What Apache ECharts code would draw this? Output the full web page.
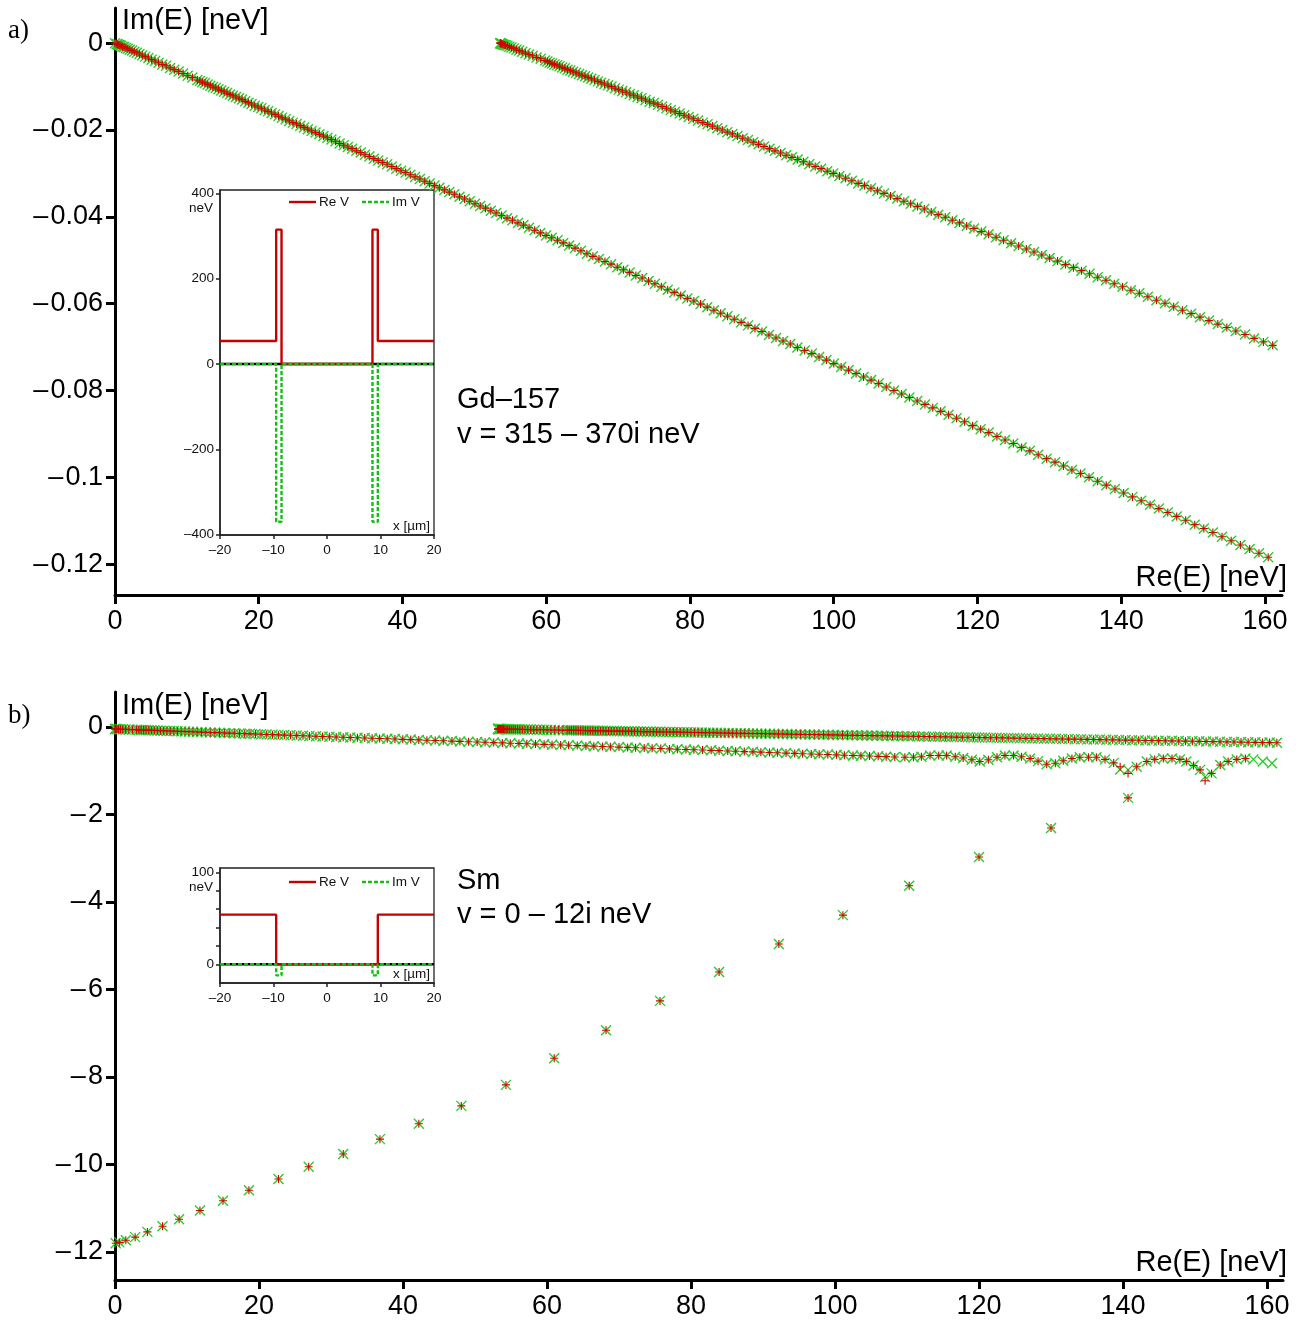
<!DOCTYPE html>
<html>
<head>
<meta charset="utf-8">
<title>Complex eigenvalues: Gd-157 and Sm</title>
<script src="https://cdn.jsdelivr.net/npm/echarts@6/dist/echarts.min.js"></script>
<style>
  html, body { margin: 0; padding: 0; background: #fff; }
  #chart { width: 1299px; height: 1321px; }
</style>
</head>
<body>
<div id="chart"></div>
<script>
// ---------------- a) Gd-157, v = 315 - 370i neV ----------------
// states inside the well (branch starting at the origin)
const gdLowRe = [0, 0.26, 0.38, 0.52, 0.67, 0.85, 1.05, 1.27, 1.52, 1.78, 2.06, 2.37, 2.69, 3.04, 3.41, 3.80, 4.21, 4.64, 5.09, 5.57, 6.06, 6.58, 7.11, 7.67, 8.25, 8.85, 9.47, 10.11, 10.77,
  11.46, 11.81, 12.16, 12.52, 12.89, 13.26, 13.63, 14.02, 14.40, 14.79, 15.19, 15.59, 16.00, 16.41, 16.83, 17.26, 17.68, 18.12, 18.56, 19.00, 19.45, 19.91, 20.37, 20.83, 21.30, 21.78, 22.26, 22.75, 23.24, 23.74, 24.24, 24.75, 25.26, 25.78, 26.30, 26.83, 27.36, 27.90, 28.45, 29.00, 29.55, 30.11, 30.68, 31.25, 31.82, 32.40, 32.99, 33.58, 34.18, 34.78, 35.39, 36.00, 36.62, 37.24, 37.87, 38.51, 39.14, 39.79, 40.44, 41.09, 41.75, 42.42, 43.09, 43.77, 44.45, 45.13, 45.83, 46.52, 47.22, 47.93, 48.64, 49.36, 50.09, 50.81, 51.55, 52.29, 53.03, 53.78, 54.54, 55.30, 56.06, 56.83, 57.61, 58.39, 59.18, 59.97, 60.76, 61.57, 62.37, 63.19, 64.00, 64.83, 65.66, 66.49, 67.33, 68.17, 69.02, 69.88, 70.74, 71.60, 72.47, 73.35, 74.23, 75.12, 76.01, 76.90, 77.81, 78.71, 79.63, 80.54, 81.47, 82.40, 83.33, 84.27, 85.21, 86.16, 87.12, 88.08, 89.04, 90.01, 90.99, 91.97, 92.95, 93.95, 94.94, 95.95, 96.95, 97.96, 98.98, 100.01, 101.03, 102.07, 103.11, 104.15, 105.20, 106.25, 107.31, 108.38, 109.45, 110.53, 111.61, 112.69, 113.78, 114.88, 115.98, 117.09, 118.20, 119.32, 120.44, 121.57, 122.71, 123.84, 124.99, 126.14, 127.29, 128.45, 129.62, 130.79, 131.96, 133.14, 134.33, 135.52, 136.72, 137.92, 139.13, 140.34, 141.56, 142.78, 144.01, 145.24, 146.48, 147.72, 148.97, 150.23, 151.49, 152.75, 154.02, 155.30, 156.58, 157.87, 159.16, 160.45];
const gdLowIm = [0, -0.0002, -0.0003, -0.0004, -0.0005, -0.0006, -0.0008, -0.0009, -0.0011, -0.0013, -0.0015, -0.0017, -0.0020, -0.0022, -0.0025, -0.0028, -0.0031, -0.0034, -0.0038, -0.0041, -0.0045, -0.0049, -0.0052, -0.0057, -0.0061, -0.0065, -0.0070, -0.0075, -0.0079,
  -0.0085, -0.0087, -0.0090, -0.0092, -0.0095, -0.0098, -0.0101, -0.0103, -0.0106, -0.0109, -0.0112, -0.0115, -0.0118, -0.0121, -0.0124, -0.0127, -0.0130, -0.0134, -0.0137, -0.0140, -0.0144, -0.0147, -0.0150, -0.0154, -0.0157, -0.0161, -0.0164, -0.0168, -0.0172, -0.0175, -0.0179, -0.0183, -0.0186, -0.0190, -0.0194, -0.0198, -0.0202, -0.0206, -0.0210, -0.0214, -0.0218, -0.0222, -0.0226, -0.0231, -0.0235, -0.0239, -0.0243, -0.0248, -0.0252, -0.0257, -0.0261, -0.0266, -0.0270, -0.0275, -0.0279, -0.0284, -0.0289, -0.0294, -0.0298, -0.0303, -0.0308, -0.0313, -0.0318, -0.0323, -0.0328, -0.0333, -0.0338, -0.0343, -0.0348, -0.0354, -0.0359, -0.0364, -0.0370, -0.0375, -0.0380, -0.0386, -0.0391, -0.0397, -0.0403, -0.0408, -0.0414, -0.0419, -0.0425, -0.0431, -0.0437, -0.0443, -0.0448, -0.0454, -0.0460, -0.0466, -0.0472, -0.0478, -0.0485, -0.0491, -0.0497, -0.0503, -0.0509, -0.0516, -0.0522, -0.0528, -0.0535, -0.0541, -0.0548, -0.0554, -0.0561, -0.0568, -0.0574, -0.0581, -0.0588, -0.0594, -0.0601, -0.0608, -0.0615, -0.0622, -0.0629, -0.0636, -0.0643, -0.0650, -0.0657, -0.0664, -0.0672, -0.0679, -0.0686, -0.0693, -0.0701, -0.0708, -0.0715, -0.0723, -0.0730, -0.0738, -0.0746, -0.0753, -0.0761, -0.0769, -0.0776, -0.0784, -0.0792, -0.0800, -0.0808, -0.0816, -0.0824, -0.0832, -0.0840, -0.0848, -0.0856, -0.0864, -0.0872, -0.0881, -0.0889, -0.0897, -0.0906, -0.0914, -0.0922, -0.0931, -0.0939, -0.0948, -0.0957, -0.0965, -0.0974, -0.0983, -0.0991, -0.1000, -0.1009, -0.1018, -0.1027, -0.1036, -0.1045, -0.1054, -0.1063, -0.1072, -0.1081, -0.1090, -0.1099, -0.1109, -0.1118, -0.1127, -0.1137, -0.1146, -0.1156, -0.1165, -0.1175, -0.1184];

// states above the outer potential (branch starting near 53.6 neV)
const gdHighRe = [53.60, 53.62, 53.66, 53.74, 53.85, 53.99, 54.16, 54.36, 54.60, 54.86, 55.16, 55.49, 55.85, 56.24, 56.66, 57.11, 57.59, 58.11, 58.65, 59.23, 59.84,
  60.16, 60.48, 60.81, 61.15, 61.50, 61.85, 62.22, 62.59, 62.96, 63.35, 63.74, 64.15, 64.56, 64.97, 65.40, 65.83, 66.27, 66.72, 67.18, 67.64, 68.11, 68.59, 69.08, 69.57, 70.08, 70.59, 71.11, 71.63, 72.17, 72.71, 73.26, 73.82, 74.38, 74.96, 75.54, 76.13, 76.72, 77.33, 77.94, 78.56, 79.19, 79.82, 80.47, 81.12, 81.78, 82.44, 83.12, 83.80, 84.49, 85.19, 85.90, 86.61, 87.33, 88.06, 88.80, 89.54, 90.30, 91.06, 91.82, 92.60, 93.38, 94.18, 94.98, 95.78, 96.60, 97.42, 98.25, 99.09, 99.94, 100.79, 101.65, 102.52, 103.40, 104.28, 105.18, 106.08, 106.99, 107.90, 108.83, 109.76, 110.70, 111.65, 112.60, 113.57, 114.54, 115.52, 116.50, 117.50, 118.50, 119.51, 120.53, 121.55, 122.59, 123.63, 124.68, 125.73, 126.80, 127.87, 128.95, 130.04, 131.14, 132.24, 133.35, 134.47, 135.60, 136.73, 137.88, 139.03, 140.18, 141.35, 142.52, 143.71, 144.90, 146.09, 147.30, 148.51, 149.73, 150.96, 152.20, 153.44, 154.69, 155.95, 157.22, 158.49, 159.78, 161.07];
const gdHighIm = [0, 0, 0, -0.0001, -0.0002, -0.0003, -0.0004, -0.0005, -0.0006, -0.0008, -0.0010, -0.0012, -0.0015, -0.0017, -0.0020, -0.0023, -0.0026, -0.0029, -0.0033, -0.0036, -0.0040,
  -0.0042, -0.0045, -0.0047, -0.0049, -0.0051, -0.0053, -0.0056, -0.0058, -0.0061, -0.0063, -0.0066, -0.0068, -0.0071, -0.0074, -0.0076, -0.0079, -0.0082, -0.0085, -0.0088, -0.0091, -0.0094, -0.0097, -0.0100, -0.0104, -0.0107, -0.0110, -0.0113, -0.0117, -0.0120, -0.0124, -0.0127, -0.0131, -0.0135, -0.0138, -0.0142, -0.0146, -0.0150, -0.0154, -0.0158, -0.0162, -0.0166, -0.0170, -0.0174, -0.0178, -0.0183, -0.0187, -0.0191, -0.0196, -0.0200, -0.0205, -0.0209, -0.0214, -0.0219, -0.0223, -0.0228, -0.0233, -0.0238, -0.0243, -0.0248, -0.0253, -0.0258, -0.0263, -0.0268, -0.0273, -0.0279, -0.0284, -0.0289, -0.0295, -0.0300, -0.0306, -0.0311, -0.0317, -0.0323, -0.0328, -0.0334, -0.0340, -0.0346, -0.0352, -0.0358, -0.0364, -0.0370, -0.0376, -0.0382, -0.0389, -0.0395, -0.0401, -0.0408, -0.0414, -0.0421, -0.0427, -0.0434, -0.0440, -0.0447, -0.0454, -0.0461, -0.0467, -0.0474, -0.0481, -0.0488, -0.0495, -0.0502, -0.0510, -0.0517, -0.0524, -0.0531, -0.0539, -0.0546, -0.0554, -0.0561, -0.0569, -0.0576, -0.0584, -0.0592, -0.0599, -0.0607, -0.0615, -0.0623, -0.0631, -0.0639, -0.0647, -0.0655, -0.0663, -0.0671, -0.0680, -0.0688, -0.0696];

// ---------------- b) Sm, v = 0 - 12i neV ----------------
// branch starting at the origin (both methods agree here)
const smLowRe = [0, 0.03, 0.12, 0.27, 0.48, 0.75, 1.08, 1.47, 1.92, 2.43, 3.00, 3.31, 3.63, 3.97, 4.32, 4.69, 5.07, 5.47, 5.88, 6.31, 6.75, 7.21, 7.68, 8.17, 8.67, 9.19, 9.72, 10.27, 10.83, 11.41, 12.00, 12.61, 13.23, 13.87, 14.52, 15.19, 15.87, 16.57, 17.28, 18.01, 18.75, 19.51, 20.28, 21.07, 21.87, 22.69, 23.52, 24.37, 25.23, 26.11, 27.00, 27.91, 28.83, 29.77, 30.72, 31.69, 32.67, 33.67, 34.68, 35.71, 36.75, 37.81, 38.88, 39.97, 41.07, 42.19, 43.32, 44.47,
  45.6, 46.8, 47.9, 49.1, 50.3, 51.4, 52.6, 53.8, 54.9, 56.1, 57.2, 58.4, 59.6, 60.7, 61.9, 63.0, 64.2, 65.4, 66.5, 67.7, 68.8, 70.0, 71.2, 72.3, 73.5, 74.6, 75.8, 77.0, 78.1, 79.3, 80.4, 81.6, 82.8, 83.9, 85.1, 86.2, 87.4, 88.6, 89.7, 90.9, 92.0, 93.2, 94.4, 95.5, 96.7, 97.8, 99.0, 100.2, 101.3, 102.5, 103.6, 104.8, 106.0, 107.1, 108.3,
  109.7, 110.9, 112.0, 113.2, 114.4, 115.5, 116.7, 117.8, 119.0, 120.1, 121.3, 122.5, 123.6, 124.8, 125.9, 127.1, 128.2, 129.4, 130.6, 131.7, 132.9, 134.0, 135.2, 136.3, 137.5, 138.7, 141.9, 143.3, 144.4, 145.6, 146.8, 147.9, 148.8, 149.8, 150.7, 152.3, 153.5, 154.6, 155.8, 157.0];
const smLowIm = [-0.046, -0.046, -0.047, -0.048, -0.049, -0.050, -0.052, -0.055, -0.057, -0.060, -0.064, -0.066, -0.067, -0.069, -0.071, -0.074, -0.076, -0.078, -0.081, -0.083, -0.086, -0.089, -0.091, -0.094, -0.097, -0.100, -0.103, -0.107, -0.110, -0.113, -0.117, -0.120, -0.124, -0.128, -0.132, -0.136, -0.140, -0.144, -0.148, -0.152, -0.157, -0.161, -0.166, -0.170, -0.175, -0.180, -0.185, -0.190, -0.195, -0.200, -0.205, -0.211, -0.216, -0.222, -0.227, -0.233, -0.239, -0.245, -0.251, -0.257, -0.263, -0.269, -0.275, -0.282, -0.288, -0.295, -0.302, -0.308,
  -0.315, -0.322, -0.329, -0.336, -0.343, -0.349, -0.356, -0.363, -0.370, -0.377, -0.384, -0.391, -0.397, -0.404, -0.411, -0.418, -0.425, -0.432, -0.438, -0.445, -0.452, -0.459, -0.466, -0.473, -0.479, -0.486, -0.493, -0.500, -0.507, -0.514, -0.521, -0.527, -0.534, -0.541, -0.548, -0.555, -0.562, -0.568, -0.575, -0.582, -0.589, -0.596, -0.603, -0.610, -0.616, -0.623, -0.630, -0.637, -0.644, -0.651, -0.657, -0.664, -0.671, -0.678, -0.685,
  -0.69, -0.69, -0.68, -0.65, -0.65, -0.65, -0.68, -0.71, -0.75, -0.79, -0.75, -0.69, -0.65, -0.65, -0.68, -0.72, -0.78, -0.85, -0.83, -0.77, -0.72, -0.69, -0.69, -0.69, -0.74, -0.82, -0.91, -0.79, -0.74, -0.72, -0.72, -0.74, -0.79, -0.88, -0.98, -1.06, -0.87, -0.79, -0.74, -0.72];
// points near the dips, where the two methods differ
const smDipRe = [139.6, 140.7, 151.4];
const smDipImRed = [-0.91, -1.06, -1.23];
const smDipImGreen = [-0.97, -0.98, -1.14];
// last points found by the second method only
const smTailRe = [158.1, 159.4, 160.7];
const smTailIm = [-0.74, -0.79, -0.83];

// branch starting near 53.2 neV
const smHighRe = [53.20, 53.21, 53.24, 53.28, 53.35, 53.43, 53.54, 53.66, 53.80, 53.96, 54.14, 54.33, 54.55, 54.78, 55.04, 55.31, 55.60, 55.91, 56.23, 56.58, 56.94, 57.33, 57.73, 58.15, 58.59, 59.05, 59.53, 60.02, 60.54, 61.07, 61.62, 62.20, 62.79,
  63.09, 63.39, 63.70, 64.02, 64.34, 64.67, 65.00, 65.33, 65.67, 66.01, 66.36, 66.72, 67.07, 67.44, 67.80, 68.18, 68.55, 68.93, 69.32, 69.71, 70.11, 70.51, 70.91, 71.32, 71.74, 72.15, 72.58, 73.01, 73.44, 73.88, 74.32, 74.77, 75.22, 75.67, 76.13, 76.60, 77.07, 77.55, 78.03, 78.51, 79.00, 79.49, 79.99, 80.49, 81.00, 81.51, 82.03, 82.55, 83.08, 83.61, 84.15, 84.69, 85.23, 85.78, 86.34, 86.90, 87.46, 88.03, 88.60, 89.18, 89.76, 90.35, 90.94, 91.54, 92.14, 92.75, 93.36, 93.97, 94.59, 95.22, 95.85, 96.48, 97.12, 97.76, 98.41, 99.06, 99.72, 100.38, 101.05, 101.72, 102.40, 103.08, 103.77, 104.46, 105.15, 105.85, 106.55, 107.26, 107.98, 108.70, 109.42, 110.15, 110.88, 111.62, 112.36, 113.10, 113.86, 114.61, 115.37, 116.14, 116.91, 117.68, 118.46, 119.24, 120.03, 120.83, 121.62, 122.43, 123.23, 124.05, 124.86, 125.68, 126.51, 127.34, 128.18, 129.02, 129.86, 130.71, 131.56, 132.42, 133.29, 134.16, 135.03, 135.91, 136.79, 137.67, 138.57, 139.46, 140.36, 141.27, 142.18, 143.09, 144.01, 144.94, 145.87, 146.80, 147.74, 148.68, 149.63, 150.58, 151.54, 152.50, 153.47, 154.44, 155.41, 156.39, 157.38, 158.37, 159.36, 160.36, 161.37];
const smHighIm = [-0.046, -0.046, -0.046, -0.046, -0.046, -0.047, -0.047, -0.047, -0.048, -0.048, -0.049, -0.049, -0.050, -0.051, -0.051, -0.052, -0.053, -0.054, -0.055, -0.056, -0.057, -0.058, -0.059, -0.060, -0.062, -0.063, -0.064, -0.066, -0.067, -0.069, -0.070, -0.072, -0.074,
  -0.075, -0.076, -0.076, -0.077, -0.078, -0.079, -0.080, -0.081, -0.082, -0.083, -0.084, -0.085, -0.086, -0.087, -0.088, -0.089, -0.091, -0.092, -0.093, -0.094, -0.095, -0.096, -0.097, -0.099, -0.100, -0.101, -0.102, -0.103, -0.105, -0.106, -0.107, -0.109, -0.110, -0.111, -0.113, -0.114, -0.115, -0.117, -0.118, -0.119, -0.121, -0.122, -0.124, -0.125, -0.127, -0.128, -0.130, -0.131, -0.133, -0.134, -0.136, -0.137, -0.139, -0.140, -0.142, -0.144, -0.145, -0.147, -0.149, -0.150, -0.152, -0.154, -0.155, -0.157, -0.159, -0.161, -0.162, -0.164, -0.166, -0.168, -0.170, -0.172, -0.173, -0.175, -0.177, -0.179, -0.181, -0.183, -0.185, -0.187, -0.189, -0.191, -0.193, -0.195, -0.197, -0.199, -0.201, -0.203, -0.205, -0.207, -0.209, -0.211, -0.213, -0.215, -0.218, -0.220, -0.222, -0.224, -0.226, -0.229, -0.231, -0.233, -0.235, -0.238, -0.240, -0.242, -0.244, -0.247, -0.249, -0.251, -0.254, -0.256, -0.259, -0.261, -0.263, -0.266, -0.268, -0.271, -0.273, -0.276, -0.278, -0.281, -0.283, -0.286, -0.288, -0.291, -0.294, -0.296, -0.299, -0.301, -0.304, -0.307, -0.309, -0.312, -0.315, -0.317, -0.320, -0.323, -0.326, -0.328, -0.331, -0.334, -0.337, -0.340, -0.342, -0.345, -0.348, -0.351, -0.354, -0.357, -0.360];

// strongly absorbed states (lower arc)
const smArcRe = [0.1, 0.6, 1.5, 2.8, 4.5, 6.6, 8.9, 11.8, 15.0, 18.6, 22.7, 26.9, 31.7, 36.8, 42.2, 48.1, 54.3, 61.0, 68.2, 75.7, 83.9, 92.2, 101.1, 110.3, 120.0, 130.0, 140.7];
const smArcIm = [-11.80, -11.78, -11.73, -11.66, -11.54, -11.41, -11.25, -11.05, -10.83, -10.59, -10.33, -10.05, -9.76, -9.42, -9.07, -8.66, -8.18, -7.57, -6.93, -6.26, -5.60, -4.96, -4.30, -3.63, -2.97, -2.31, -1.62];

// ---------------- potentials for the insets ----------------
const zeroX = [-20, 20];
const zeroV = [0, 0];
const gdX = [-20, -9.5, -9.5, -8.5, -8.5, 8.5, 8.5, 9.5, 9.5, 20];
const gdReV = [54, 54, 315, 315, 0, 0, 315, 315, 54, 54];
const gdImV = [0, 0, -370, -370, 0, 0, -370, -370, 0, 0];
const smReX = [-20, -9.5, -9.5, 9.5, 9.5, 20];
const smReV = [54, 54, 0, 0, 54, 54];
const smImX = [-20, -9.5, -9.5, -8.5, -8.5, 8.5, 8.5, 9.5, 9.5, 20];
const smImV = [0, 0, -12, -12, 0, 0, -12, -12, 0, 0];

// ---------------- ticks ----------------
const reTicks = [0, 20, 40, 60, 80, 100, 120, 140, 160];
const imTicksA = [0, -0.02, -0.04, -0.06, -0.08, -0.1, -0.12];
const imTicksB = [0, -2, -4, -6, -8, -10, -12];
const insetXTicks = [-20, -10, 0, 10, 20];
const gdVTicks = [-400, -200, 0, 200, 400];
const smVTicks = [0, 20, 40, 60, 80, 100];
const smVLabels = [0, 100];

// ---------------- helpers ----------------
const pts = (xs, ys) => xs.slice(0, Math.min(xs.length, ys.length)).map((x, i) => [x, ys[i]]);
const dash = v => (v < 0 ? '\u2013' + String(Math.abs(v)) : String(v));
const dashWide = v => (v < 0 ? '\u2013\u200a' + String(Math.abs(v)) : String(v));

const SANS = '"Liberation Sans", Arial, Helvetica, sans-serif';
const SERIF = '"Liberation Serif", "DejaVu Serif", serif';
const RED = '#d40000';
const GREEN = '#2ccc2c';
const LINE_RED = '#c40000';
const LINE_GREEN = '#12c012';
const INSET_FONT = 13.5;

const PLUS = 'path://M0,5L10,5M5,0L5,10';
const CROSS = 'path://M0,0L10,10M10,0L0,10';

function markers(name, xi, yi, data, red) {
  return {
    type: 'scatter', name, xAxisIndex: xi, yAxisIndex: yi, data,
    symbol: red ? PLUS : CROSS,
    symbolSize: red ? 8 : 10,
    itemStyle: { color: red ? RED : GREEN, borderColor: red ? RED : GREEN, borderWidth: red ? 1.1 : 1.4, opacity: 1 },
    z: red ? 4 : 3, silent: true
  };
}

function mainX(gi, max) {
  return {
    type: 'value', gridIndex: gi, min: 0, max,
    axisLine: { show: true, onZero: false, lineStyle: { color: '#000', width: 3 } },
    axisTick: { show: true, customValues: reTicks, length: 9, lineStyle: { color: '#000', width: 3 } },
    axisLabel: { show: true, customValues: reTicks, color: '#000', fontSize: 27, fontFamily: SANS, margin: 13 },
    splitLine: { show: false }
  };
}
function mainY(gi, min, max, ticks) {
  return {
    type: 'value', gridIndex: gi, min, max,
    axisLine: { show: true, onZero: false, lineStyle: { color: '#000', width: 3 } },
    axisTick: { show: true, customValues: ticks, length: 9, lineStyle: { color: '#000', width: 3 } },
    axisLabel: { show: true, customValues: ticks, color: '#000', fontSize: 27, fontFamily: SANS, margin: 12, formatter: dashWide },
    splitLine: { show: false }
  };
}
function insetX(gi) {
  return {
    type: 'value', gridIndex: gi, min: -20, max: 20,
    axisLine: { show: true, onZero: false, lineStyle: { color: '#222', width: 1.5 } },
    axisTick: { show: true, customValues: insetXTicks, length: 4, lineStyle: { color: '#222', width: 1.5 } },
    axisLabel: { show: true, customValues: insetXTicks, color: '#111', fontSize: INSET_FONT, fontFamily: SANS, margin: 8, formatter: dash },
    splitLine: { show: false }
  };
}
function insetY(gi, min, max, ticks, labels) {
  return {
    type: 'value', gridIndex: gi, min, max,
    axisLine: { show: true, onZero: false, lineStyle: { color: '#222', width: 1.5 } },
    axisTick: { show: true, customValues: ticks, length: 4, lineStyle: { color: '#222', width: 1.5 } },
    axisLabel: { show: true, customValues: labels, color: '#111', fontSize: INSET_FONT, fontFamily: SANS, margin: 6, formatter: dash },
    splitLine: { show: false }
  };
}
function potLine(name, xi, yi, data, color, dashed, z) {
  return {
    type: 'line', name, xAxisIndex: xi, yAxisIndex: yi, data,
    symbol: 'none', showSymbol: false, silent: true, z, clip: false,
    lineStyle: { color, width: 2.4, type: dashed ? [4, 2] : 'solid' }
  };
}

function txt(x, y, text, size, opts) {
  return {
    type: 'text', x, y, silent: true, z: 50,
    style: Object.assign({ text, font: size + 'px ' + SANS, fill: '#000', align: 'left', verticalAlign: 'middle' }, opts || {})
  };
}
function seg(x1, x2, y, color, dashed) {
  return {
    type: 'line', silent: true, z: 50,
    shape: { x1, y1: y, x2, y2: y },
    style: { stroke: color, lineWidth: 2.4, lineDash: dashed ? [4, 2] : null }
  };
}

const chart = echarts.init(document.getElementById('chart'), null, { renderer: 'canvas' });

const option = {
  animation: false,
  backgroundColor: '#fff',
  grid: [
    { left: 115, top: 8, width: 1167, height: 587, containLabel: false },
    { left: 220, top: 190, width: 214, height: 345, show: true, backgroundColor: 'rgba(255,255,255,0)', borderColor: '#222', borderWidth: 1.3 },
    { left: 115, top: 692, width: 1168, height: 588, containLabel: false },
    { left: 220, top: 868, width: 214, height: 115, show: true, backgroundColor: 'rgba(255,255,255,0)', borderColor: '#222', borderWidth: 1.3 }
  ],
  xAxis: [
    mainX(0, 162.37),
    insetX(1),
    mainX(2, 162.22),
    insetX(3)
  ],
  yAxis: [
    mainY(0, -0.1271, 0.0081, imTicksA),
    insetY(1, -401, 408, gdVTicks, gdVTicks),
    mainY(2, -12.64, 0.8, imTicksB),
    insetY(3, -20.3, 104.7, smVTicks, smVLabels)
  ],
  series: [
    // a) main plot
    markers('Gd low (x)', 0, 0, pts(gdLowRe, gdLowIm), false),
    markers('Gd high (x)', 0, 0, pts(gdHighRe, gdHighIm), false),
    markers('Gd low (+)', 0, 0, pts(gdLowRe, gdLowIm), true),
    markers('Gd high (+)', 0, 0, pts(gdHighRe, gdHighIm), true),
    // a) inset
    potLine('zero', 1, 1, pts(zeroX, zeroV), '#000', false, 5),
    potLine('Re V', 1, 1, pts(gdX, gdReV), LINE_RED, false, 6),
    potLine('Im V', 1, 1, pts(gdX, gdImV), LINE_GREEN, true, 7),
    // b) main plot
    markers('Sm low (x)', 2, 2, pts(smLowRe, smLowIm).concat(pts(smDipRe, smDipImGreen), pts(smTailRe, smTailIm)), false),
    markers('Sm high (x)', 2, 2, pts(smHighRe, smHighIm), false),
    markers('Sm arc (x)', 2, 2, pts(smArcRe, smArcIm), false),
    markers('Sm low (+)', 2, 2, pts(smLowRe, smLowIm).concat(pts(smDipRe, smDipImRed)), true),
    markers('Sm high (+)', 2, 2, pts(smHighRe, smHighIm), true),
    markers('Sm arc (+)', 2, 2, pts(smArcRe, smArcIm), true),
    // b) inset
    potLine('zero', 3, 3, pts(zeroX, zeroV), '#000', false, 5),
    potLine('Re V', 3, 3, pts(smReX, smReV), LINE_RED, false, 6),
    potLine('Im V', 3, 3, pts(smImX, smImV), LINE_GREEN, true, 7)
  ],
  graphic: [
    // panel a
    txt(8, 31, 'a)', 27, { font: '27px ' + SERIF }),
    txt(122, 21, 'Im(E) [neV]', 29),
    txt(1287, 578, 'Re(E) [neV]', 29, { align: 'right' }),
    txt(457, 400, 'Gd\u2013157', 29),
    txt(457, 435, 'v = 315 \u2013 370i neV', 29),
    txt(213, 208, 'neV', INSET_FONT, { align: 'right', fill: '#111' }),
    txt(430, 526, 'x [\u00b5m]', INSET_FONT, { align: 'right', fill: '#111' }),
    seg(289, 316, 202, LINE_RED, false),
    txt(319, 202, 'Re V', INSET_FONT, { fill: '#111' }),
    seg(362, 389, 202, LINE_GREEN, true),
    txt(392, 202, 'Im V', INSET_FONT, { fill: '#111' }),
    // panel b
    txt(8, 716, 'b)', 27, { font: '27px ' + SERIF }),
    txt(122, 706, 'Im(E) [neV]', 29),
    txt(1287, 1263, 'Re(E) [neV]', 29, { align: 'right' }),
    txt(457, 881, 'Sm', 29),
    txt(457, 915, 'v = 0 \u2013 12i neV', 29),
    txt(213, 887, 'neV', INSET_FONT, { align: 'right', fill: '#111' }),
    txt(430, 974, 'x [\u00b5m]', INSET_FONT, { align: 'right', fill: '#111' }),
    seg(289, 316, 882, LINE_RED, false),
    txt(319, 882, 'Re V', INSET_FONT, { fill: '#111' }),
    seg(362, 389, 882, LINE_GREEN, true),
    txt(392, 882, 'Im V', INSET_FONT, { fill: '#111' })
  ]
};

chart.setOption(option);
</script>
</body>
</html>
